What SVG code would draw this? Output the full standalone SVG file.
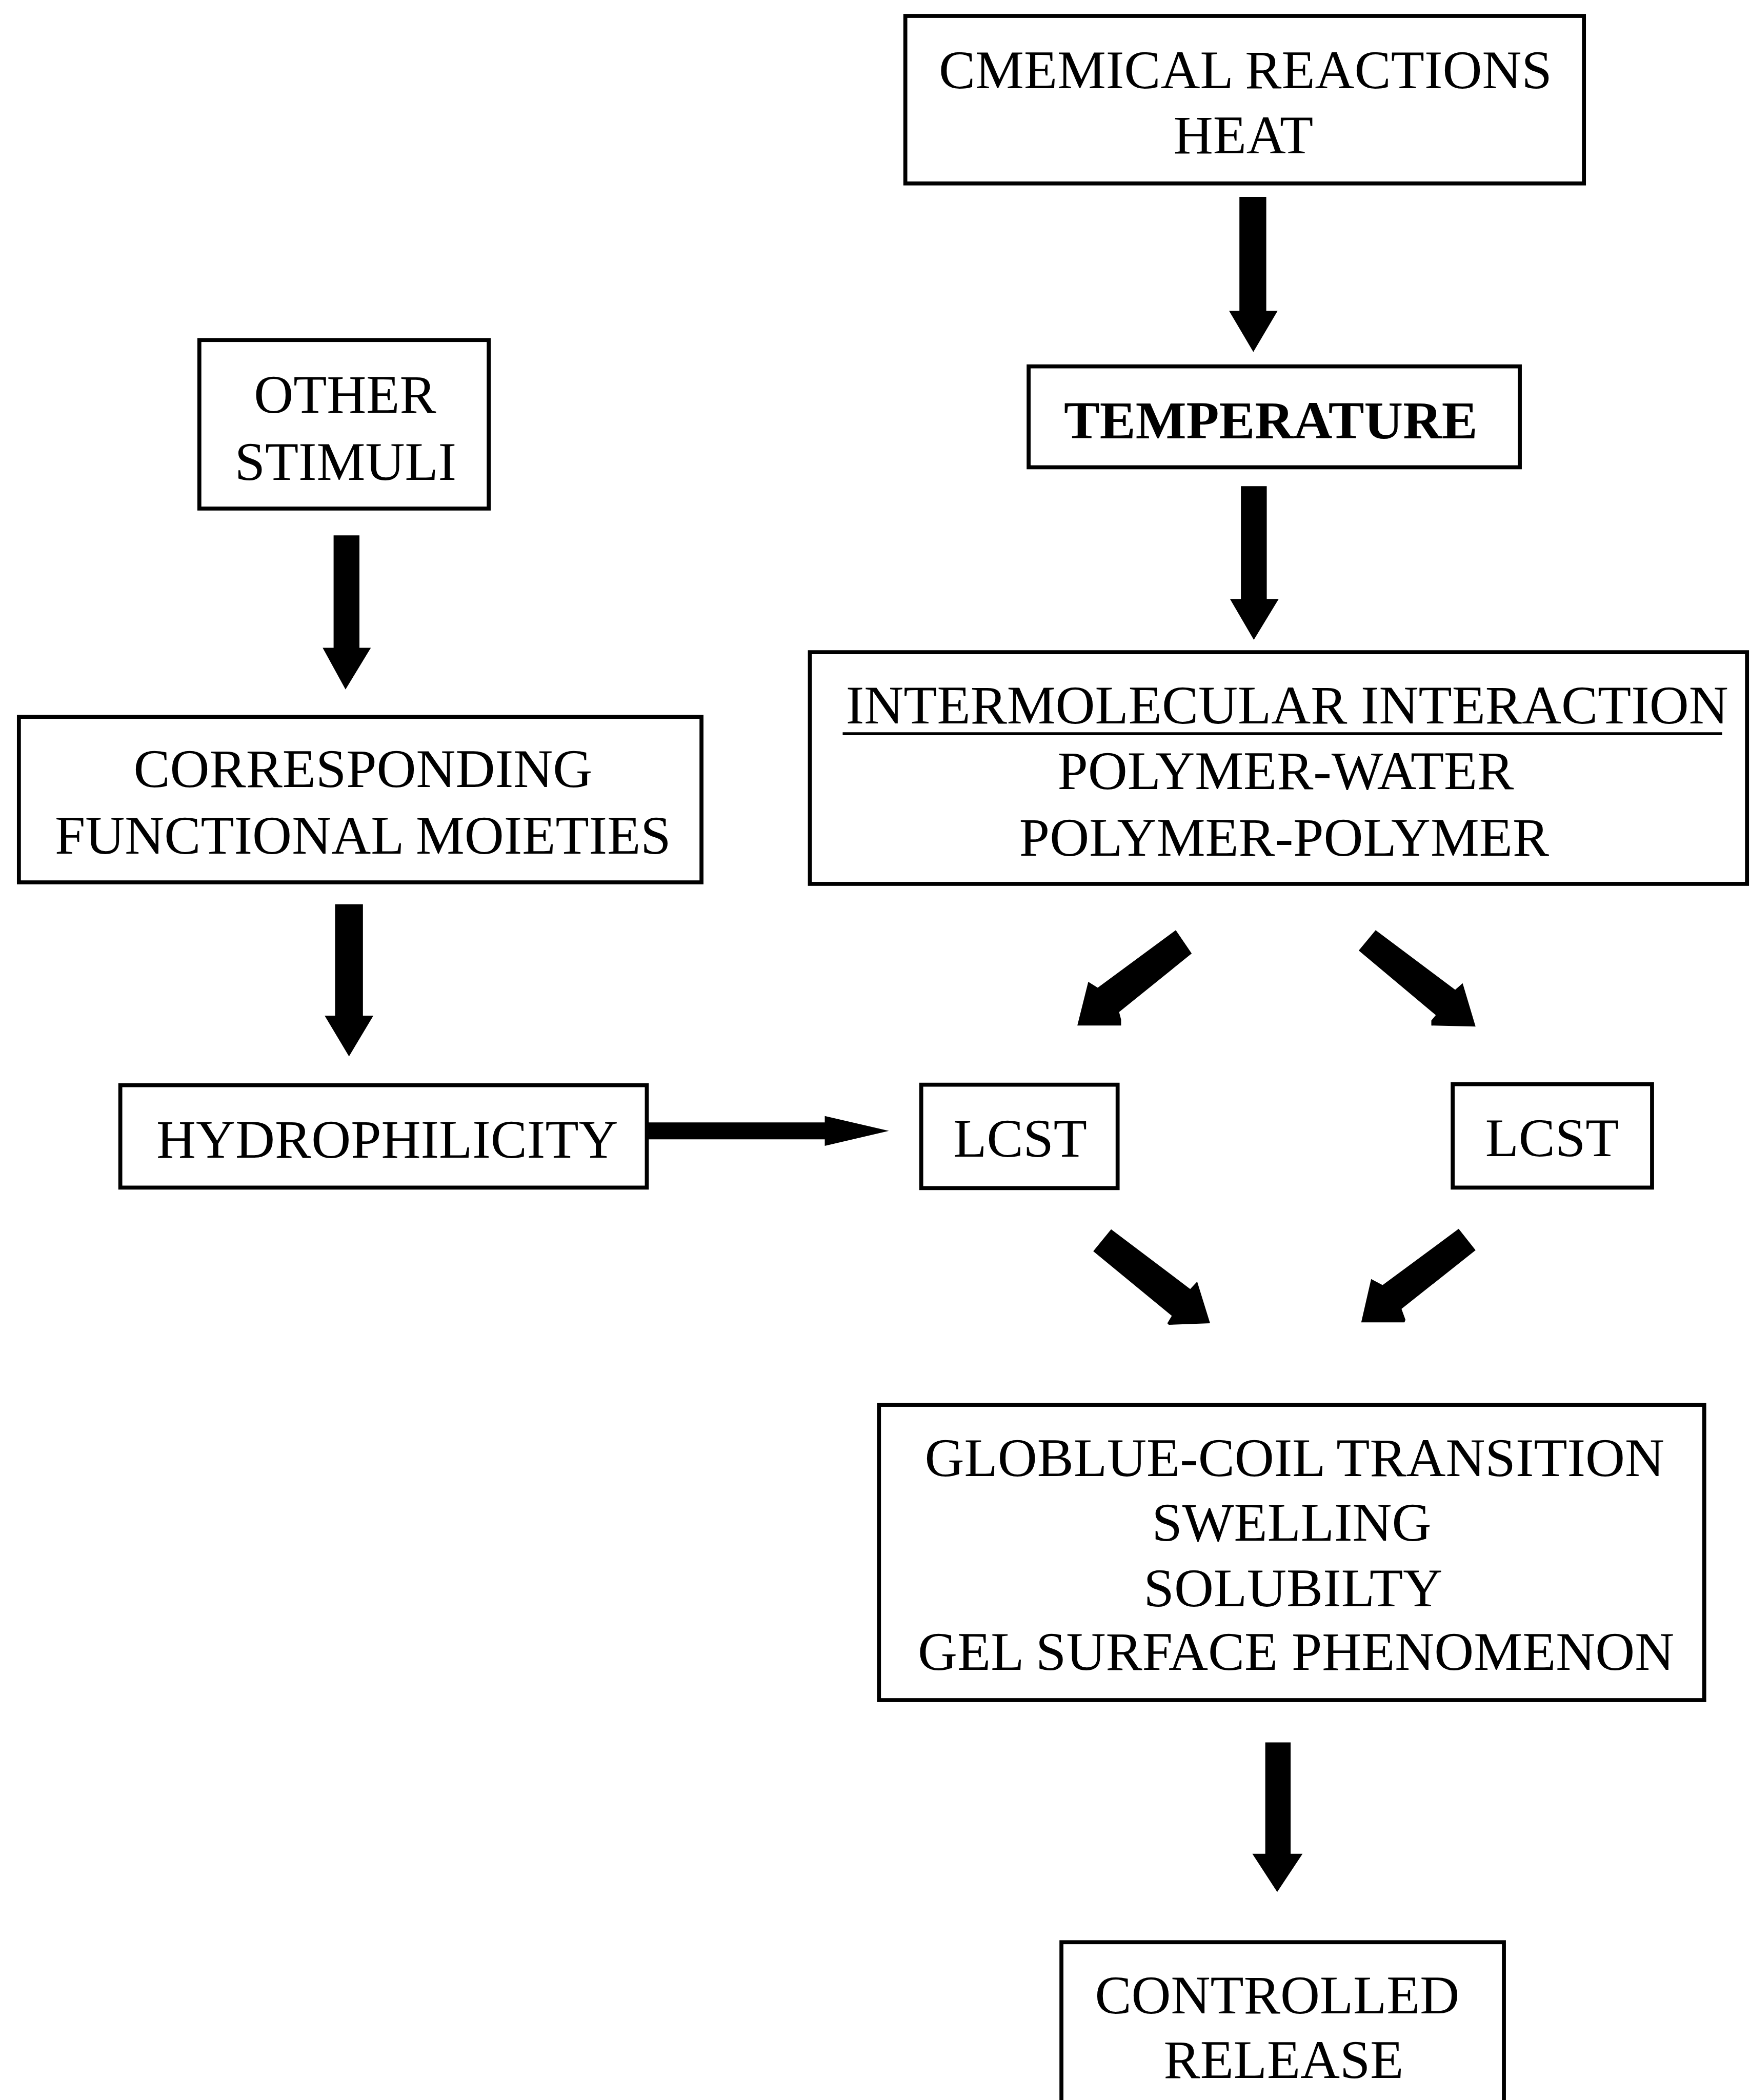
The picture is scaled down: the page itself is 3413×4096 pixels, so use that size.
<svg xmlns="http://www.w3.org/2000/svg" width="3413" height="4096" viewBox="0 0 3413 4096">
<style>
.box{fill:#fff;stroke:#000;stroke-width:8}
.t{font-family:"Liberation Serif","Times New Roman",serif;font-size:110px;fill:#000;text-anchor:middle}
.b{font-weight:bold;font-size:108px}
.arr{fill:#000;stroke:none}
</style>
<rect width="3413" height="4096" fill="#fff"/>
<g transform="scale(0.969602)">
<g id="connectors">
<polygon class="arr" points="2493,396 2547,396 2547,625 2570,625 2521,708 2472,625 2493,625"/>
<polygon class="arr" points="2496,978 2548,978 2548,1205 2572,1205 2522,1287 2474,1205 2496,1205"/>
<polygon class="arr" points="671,1077 723,1077 723,1303 746,1303 695,1387 649,1303 671,1303"/>
<polygon class="arr" points="674,1819 730,1819 730,2043 751,2043 702,2125 653,2043 674,2043"/>
<polygon class="arr" points="1294,2258 1659,2258 1659,2245 1788,2275 1659,2305 1659,2292 1294,2292"/>
<polygon class="arr" points="2365,1871 2397,1918 2251,2036 2255,2051 2255,2063 2167,2063 2189,1975 2208,1987"/>
<polygon class="arr" points="2767,1871 2733,1912 2888,2042 2879,2053 2879,2063 2968,2065 2942,1978 2927,1991"/>
<polygon class="arr" points="2235,2473 2199,2517 2357,2647 2348,2662 2351,2665 2434,2662 2408,2578 2394,2593"/>
<polygon class="arr" points="2934,2472 2968,2515 2819,2633 2827,2655 2825,2660 2738,2660 2758,2573 2781,2585"/>
<polygon class="arr" points="2545,3505 2596,3505 2596,3729 2620,3729 2569,3806 2519,3729 2545,3729"/>
</g>
<g id="n1">
<rect class="box" x="1821" y="32" width="1365" height="337"/>
<text class="t" x="2505" y="177">CMEMICAL REACTIONS</text>
<text class="t" x="2501" y="308">HEAT</text>
</g>
<g id="n2">
<rect class="box" x="2069" y="737" width="988" height="203"/>
<text class="t b" x="2556" y="882">TEMPERATURE</text>
</g>
<g id="n3">
<rect class="box" x="401" y="684" width="582" height="339"/>
<text class="t" x="694" y="830">OTHER</text>
<text class="t" x="695" y="965">STIMULI</text>
</g>
<g id="n4">
<rect class="box" x="38" y="1442" width="1373" height="333"/>
<text class="t" x="730" y="1583">CORRESPONDING</text>
<text class="t" x="730" y="1717">FUNCTIONAL MOIETIES</text>
</g>
<g id="n5">
<rect class="box" x="1629" y="1312" width="1885" height="466"/>
<text class="t" x="2589" y="1455">INTERMOLECULAR INTERACTION</text>
<line x1="1695" y1="1476" x2="3464" y2="1476" stroke="#000" stroke-width="6"/>
<text class="t" x="2586" y="1587">POLYMER-WATER</text>
<text class="t" x="2583" y="1721">POLYMER-POLYMER</text>
</g>
<g id="n6">
<rect class="box" x="242" y="2183" width="1059" height="206"/>
<text class="t" x="779" y="2329">HYDROPHILICITY</text>
</g>
<g id="n7">
<rect class="box" x="1853" y="2182" width="395" height="208"/>
<text class="t" x="2052" y="2327">LCST</text>
</g>
<g id="n8">
<rect class="box" x="2922" y="2181" width="401" height="208"/>
<text class="t" x="3122" y="2326">LCST</text>
</g>
<g id="n9">
<rect class="box" x="1768" y="2826" width="1660" height="594"/>
<text class="t" x="2604" y="2969">GLOBLUE-COIL TRANSITION</text>
<text class="t" x="2598" y="3099">SWELLING</text>
<text class="t" x="2601" y="3231">SOLUBILTY</text>
<text class="t" x="2607" y="3359">GEL SURFACE PHENOMENON</text>
</g>
<g id="n10">
<rect class="box" x="2135" y="3907" width="890" height="393"/>
<text class="t" x="2569" y="4050">CONTROLLED</text>
<text class="t" x="2582" y="4180">RELEASE</text>
</g>
</g>
</svg>
